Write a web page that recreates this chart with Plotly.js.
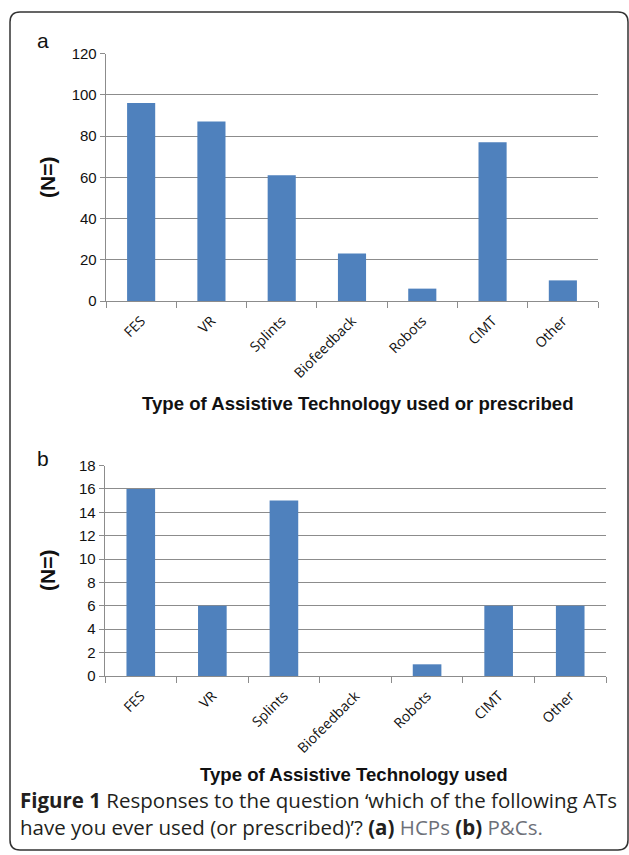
<!DOCTYPE html>
<html>
<head>
<meta charset="utf-8">
<script src="https://cdn.plot.ly/plotly-3.0.1.min.js"></script>
<style>
html,body{margin:0;padding:0;background:#fff;}
#chart{width:629px;height:855px;}
</style>
</head>
<body>
<div id="chart"></div>
<script>
// ---- data ----
const categories = ["FES", "VR", "Splints", "Biofeedback", "Robots", "CIMT", "Other"];
const hcpValues = [96, 87, 61, 23, 6, 77, 10];
const pcValues = [16, 6, 15, 0, 1, 6, 6];
const hcpTicks = [0, 20, 40, 60, 80, 100, 120];
const pcTicks = [0, 2, 4, 6, 8, 10, 12, 14, 16, 18];

const W = 629, H = 855;
const px = x => x / W;
const py = y => 1 - y / H;

const barColor = "#4F81BD";
const gridColor = "#8c8c8c";

const traces = [
  {type: "bar", x: categories, y: hcpValues, xaxis: "x", yaxis: "y",
   marker: {color: barColor, line: {width: 0}}, width: 0.4,
   hoverinfo: "x+y"},
  {type: "bar", x: categories, y: pcValues, xaxis: "x2", yaxis: "y2",
   marker: {color: barColor, line: {width: 0}}, width: 0.4,
   hoverinfo: "x+y"}
];

function xax(domain, anchor, size) {
  return {
    domain: domain, anchor: anchor, type: "category", showline: true, linecolor: gridColor, linewidth: 1.3,
    ticks: "outside", tickson: "boundaries", ticklen: 6, tickcolor: gridColor, tickwidth: 1,
    tickangle: -45, ticklabelstandoff: 5,
    tickfont: {family: "Open Sans, sans-serif", size: size, color: "#111"},
    showgrid: false, fixedrange: true
  };
}
function yax(domain, anchor, ticks, range, size) {
  return {
    domain: domain, anchor: anchor, range: range, tickvals: ticks, showline: true, linecolor: gridColor, linewidth: 1.3,
    ticks: "outside", ticklen: 5, tickcolor: gridColor, tickwidth: 1,
    showgrid: true, gridcolor: gridColor, gridwidth: 1, zeroline: false,
    tickfont: {family: "Liberation Sans, Arial, sans-serif", size: size, color: "#111"},
    fixedrange: true
  };
}

const r = 10, L = 10, R = 628, T = 12, B = 850;
const framePath = `M ${px(L)} ${py(T + r)} Q ${px(L)} ${py(T)} ${px(L + r)} ${py(T)} ` +
  `L ${px(R - r)} ${py(T)} Q ${px(R)} ${py(T)} ${px(R)} ${py(T + r)} ` +
  `L ${px(R)} ${py(B - r)} Q ${px(R)} ${py(B)} ${px(R - r)} ${py(B)} ` +
  `L ${px(L + r)} ${py(B)} Q ${px(L)} ${py(B)} ${px(L)} ${py(B - r)} Z`;

const titleFont = {family: "Liberation Sans, Arial, sans-serif", size: 18.6, color: "#111"};
const nFont = {family: "Liberation Sans, Arial, sans-serif", size: 21, color: "#111"};
const capFont = {family: "Open Sans, sans-serif", size: 20.5, color: "#231f20"};
const letterFont = {family: "Liberation Sans, Arial, sans-serif", size: 21, color: "#111"};

function note(text, x, y, font, extra) {
  return Object.assign({text: text, x: px(x), y: py(y), xref: "paper", yref: "paper",
    xanchor: "center", yanchor: "middle", showarrow: false, font: font}, extra || {});
}

const layout = {
  width: W, height: H, margin: {l: 0, r: 0, t: 0, b: 0},
  paper_bgcolor: "#fff", plot_bgcolor: "#fff", showlegend: false, bargap: 0.6,
  xaxis: xax([px(106), px(598)], "y", 14),
  yaxis: yax([py(301), py(53.5)], "x", hcpTicks, [0, 120], 15),
  xaxis2: xax([px(105), px(606)], "y2", 14),
  yaxis2: yax([py(676), py(465.5)], "x2", pcTicks, [0, 18], 15),
  shapes: [{type: "path", xref: "paper", yref: "paper", path: framePath,
            line: {color: "#333", width: 1.5}, fillcolor: "rgba(0,0,0,0)"}],
  annotations: [
    note("a", 43, 41, letterFont),
    note("b", 43, 458, letterFont),
    note("<b>(N=)</b>", 47, 178, nFont, {textangle: -90}),
    note("<b>(N=)</b>", 47, 571, nFont, {textangle: -90}),
    note("<b>Type of Assistive Technology used or prescribed</b>", 357.5, 403, titleFont),
    note("<b>Type of Assistive Technology used</b>", 353.5, 774, titleFont),
    note("<b>Figure 1</b> Responses to the question \u2018which of the following ATs<br>" +
         "have you ever used (or prescribed)\u2019? <b>(a)</b> <span style=\"color:#6d7078\">HCPs</span> <b>(b)</b> <span style=\"color:#6d7078\">P&amp;Cs.</span>",
         18, 813.5, capFont, {xanchor: "left", align: "left"})
  ]
};

Plotly.newPlot("chart", traces, layout, {displayModeBar: false, staticPlot: true});
</script>
</body>
</html>
